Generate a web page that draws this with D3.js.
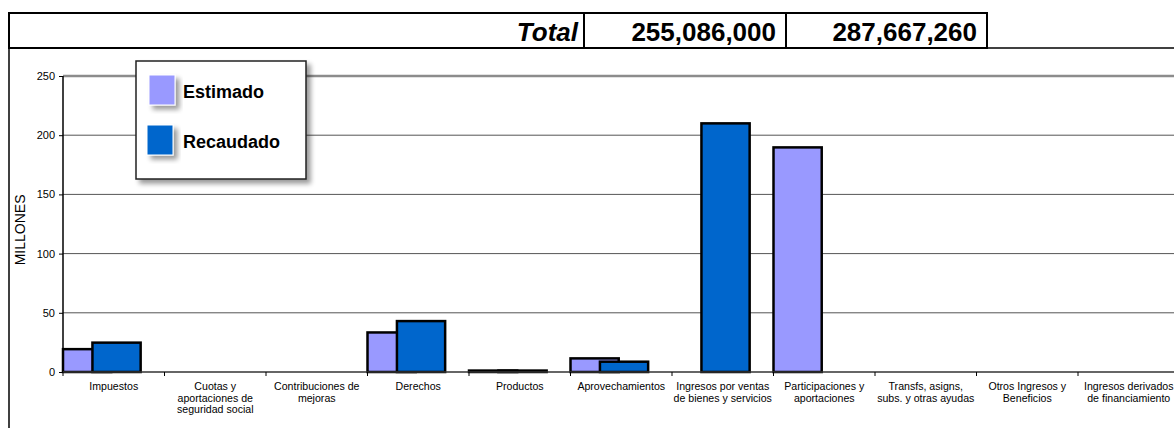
<!DOCTYPE html>
<html>
<head>
<meta charset="utf-8">
<script src="https://cdn.jsdelivr.net/npm/d3@7"></script>
<style>
  body { margin: 0; background: #fff; }
  svg { display: block; font-family: "Liberation Sans", Arial, sans-serif; }
</style>
</head>
<body>
<svg id="chart" width="1174" height="428"></svg>
<script>
// data (millions)
const categories = [
  "Impuestos",
  "Cuotas y\naportaciones de\nseguridad social",
  "Contribuciones de\nmejoras",
  "Derechos",
  "Productos",
  "Aprovechamientos",
  "Ingresos por ventas\nde bienes y servicios",
  "Participaciones y\naportaciones",
  "Transfs, asigns,\nsubs. y otras ayudas",
  "Otros Ingresos y\nBeneficios",
  "Ingresos derivados\nde financiamiento"
];
const estimado  = [19.3, 0, 0, 33.4, 1.2, 11.5, 0, 189.7, 0, 0, 0];
const recaudado = [24.8, 0, 0, 43.0, 1.2, 8.7, 210.0, 0, 0, 0, 0];
const yTicks = [0, 50, 100, 150, 200, 250];
const totalLabel = "Total";
const totals = ["255,086,000", "287,667,260"];
const seriesNames = ["Estimado", "Recaudado"];
const colors = ["#9999FF", "#0066CC"];

const svg = d3.select("#chart");
const defs = svg.append("defs");
const shadow = defs.append("filter").attr("id", "shadow")
  .attr("x", "-20%").attr("y", "-20%").attr("width", "150%").attr("height", "150%");
shadow.append("feGaussianBlur").attr("in", "SourceAlpha").attr("stdDeviation", 2.5).attr("result", "blur");
shadow.append("feOffset").attr("in", "blur").attr("dx", 4).attr("dy", 4).attr("result", "off");
shadow.append("feComponentTransfer").attr("in", "off").attr("result", "soft")
  .append("feFuncA").attr("type", "linear").attr("slope", 0.4);
const merge = shadow.append("feMerge");
merge.append("feMergeNode").attr("in", "soft");
merge.append("feMergeNode").attr("in", "SourceGraphic");

// totals table on top
const tableTop = 13, tableBot = 48;
const cells = [9, 584, 786, 987];
svg.append("line").attr("x1", 9).attr("x2", 1174).attr("y1", tableBot).attr("y2", tableBot)
  .attr("stroke", "#000").attr("stroke-width", 1.5);
svg.append("rect").attr("x", cells[0]).attr("y", tableTop)
  .attr("width", cells[3] - cells[0]).attr("height", tableBot - tableTop)
  .attr("fill", "none").attr("stroke", "#000").attr("stroke-width", 2);
[cells[1], cells[2]].forEach(cx => svg.append("line")
  .attr("x1", cx).attr("x2", cx).attr("y1", tableTop).attr("y2", tableBot)
  .attr("stroke", "#000").attr("stroke-width", 2));
svg.append("text").attr("x", cells[1] - 6).attr("y", 41).attr("text-anchor", "end")
  .attr("font-size", 26).attr("font-weight", "bold").attr("font-style", "italic").text(totalLabel);
totals.forEach((t, i) => svg.append("text").attr("x", cells[i + 2] - 10).attr("y", 41)
  .attr("text-anchor", "end").attr("font-size", 26).attr("font-weight", "bold").text(t));

// chart frame (left edge)
svg.append("line").attr("x1", 9).attr("x2", 9).attr("y1", tableBot).attr("y2", 428)
  .attr("stroke", "#000").attr("stroke-width", 1.5);

// scales
const x = d3.scaleBand().domain(d3.range(categories.length)).range([63, 63 + 101.5 * categories.length]);
const y = d3.scaleLinear().domain([0, 250]).range([372, 76]);
const bw = x.bandwidth();

// gridlines
svg.append("g").selectAll("line").data(yTicks.filter(d => d > 0)).enter().append("line")
  .attr("x1", x.range()[0]).attr("x2", 1174)
  .attr("y1", d => y(d)).attr("y2", d => y(d))
  .attr("stroke", d => d === 250 ? "#8c8c8c" : "#555")
  .attr("stroke-width", d => d === 250 ? 2.5 : 1);

// y axis
const yAxis = svg.append("g").attr("transform", `translate(${x.range()[0]},0)`)
  .call(d3.axisLeft(y).tickValues(yTicks).tickSize(4).tickPadding(4));
yAxis.select(".domain").remove();
yAxis.selectAll("line").attr("stroke", "#000");
yAxis.selectAll("text").attr("font-size", 11).attr("font-family", "Liberation Sans, Arial, sans-serif").attr("fill", "#000");
svg.append("line").attr("x1", x.range()[0]).attr("x2", x.range()[0]).attr("y1", y(250)).attr("y2", y(0))
  .attr("stroke", "#000").attr("stroke-width", 1.5);

svg.append("text").attr("transform", `translate(25,${y(120)}) rotate(-90)`)
  .attr("text-anchor", "middle").attr("font-size", 14).text("MILLONES");

// bars
const bars = svg.append("g");
const seriesData = [estimado, recaudado];
const offsets = [0, 0.29];
seriesData.forEach((vals, s) => {
  bars.append("g").selectAll("rect")
    .data(vals.map((v, i) => ({ i, v })).filter(d => d.v > 0))
    .enter().append("rect")
    .attr("x", d => x(d.i) + bw * offsets[s])
    .attr("width", bw * 0.475)
    .attr("y", d => y(d.v))
    .attr("height", d => y(0) - y(d.v))
    .attr("fill", colors[s])
    .attr("stroke", "#000").attr("stroke-width", 2.5);
});

// x axis
svg.append("line").attr("x1", x.range()[0]).attr("x2", 1174).attr("y1", y(0)).attr("y2", y(0))
  .attr("stroke", "#333").attr("stroke-width", 1.5);
svg.append("g").selectAll("line").data(d3.range(categories.length + 1)).enter().append("line")
  .attr("x1", d => x.range()[0] + d * bw).attr("x2", d => x.range()[0] + d * bw)
  .attr("y1", y(0)).attr("y2", y(0) + 4).attr("stroke", "#000");

const labels = svg.append("g").selectAll("text").data(categories).enter().append("text")
  .attr("x", (d, i) => x(i) + bw / 2).attr("y", 390)
  .attr("text-anchor", "middle").attr("font-size", 10.6);
labels.selectAll("tspan").data(d => d.split("\n")).enter().append("tspan")
  .attr("x", function() { return this.parentNode.getAttribute("x"); })
  .attr("dy", (d, i) => i === 0 ? 0 : 11.7)
  .text(d => d);

// legend
const legend = svg.append("g");
legend.append("rect").attr("x", 136).attr("y", 61).attr("width", 170).attr("height", 118)
  .attr("fill", "#fff").attr("stroke", "#222").attr("stroke-width", 1.5).attr("filter", "url(#shadow)");
const sw = [[149, 75], [147, 125]];
seriesNames.forEach((name, i) => {
  legend.append("rect").attr("x", sw[i][0]).attr("y", sw[i][1]).attr("width", 26).attr("height", 30)
    .attr("fill", colors[i]).attr("stroke", "#fff").attr("stroke-width", 1).attr("filter", "url(#shadow)");
  legend.append("text").attr("x", 183).attr("y", sw[i][1] + 23)
    .attr("font-size", 18).attr("font-weight", "bold").text(name);
});
</script>
</body>
</html>
